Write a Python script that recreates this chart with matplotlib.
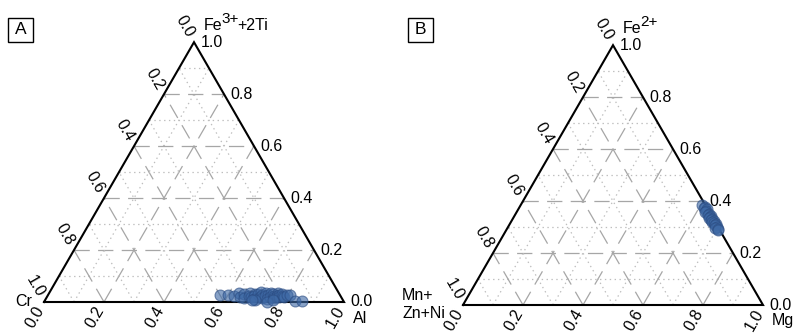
import numpy as np
import matplotlib
matplotlib.use("Agg")
import matplotlib.pyplot as plt
from matplotlib.patches import Rectangle

plt.rcParams['font.family'] = ['Liberation Sans', 'DejaVu Sans']
plt.rcParams['lines.scale_dashes'] = False

# panel A: spinel Al - Cr - (Fe3+ + 2Ti)
a_al = [0.573, 0.600, 0.622, 0.634, 0.645, 0.652, 0.660, 0.668, 0.672, 0.680,
        0.686, 0.690, 0.695, 0.700, 0.705, 0.710, 0.713, 0.718, 0.722, 0.727,
        0.732, 0.736, 0.740, 0.745, 0.750, 0.754, 0.758, 0.762, 0.766, 0.771,
        0.775, 0.779, 0.784, 0.790, 0.796, 0.805, 0.743, 0.700, 0.837, 0.858,
        0.760, 0.690]
a_fe = [0.027, 0.028, 0.024, 0.034, 0.020, 0.030, 0.016, 0.036, 0.025, 0.018,
        0.032, 0.022, 0.012, 0.030, 0.038, 0.020, 0.026, 0.016, 0.034, 0.022,
        0.028, 0.012, 0.036, 0.020, 0.030, 0.024, 0.015, 0.033, 0.022, 0.028,
        0.018, 0.030, 0.024, 0.020, 0.026, 0.027, 0.000, 0.008, 0.002, 0.003,
        0.008, 0.006]

# panel B: Mg - (Mn+Zn+Ni) - Fe2+
b_fe = [0.385, 0.378, 0.372, 0.368, 0.362, 0.357, 0.352, 0.348, 0.343, 0.339,
        0.335, 0.331, 0.327, 0.322, 0.318, 0.314, 0.310, 0.306, 0.302, 0.298,
        0.294, 0.290]
b_mn = [0.010, 0.006, 0.012, 0.004, 0.009, 0.015, 0.005, 0.011, 0.002, 0.008,
        0.013, 0.004, 0.009, 0.003, 0.011, 0.006, 0.002, 0.008, 0.004, 0.010,
        0.003, 0.006]

tick_vals = [0.0, 0.2, 0.4, 0.6, 0.8, 1.0]
tick_labels = ['0.0', '0.2', '0.4', '0.6', '0.8', '1.0']

H = np.sqrt(3) / 2
FS = 11.5


def to_xy(right, top):
    right = np.asarray(right, dtype=float)
    top = np.asarray(top, dtype=float)
    return right + top / 2, top * H


def ternary_frame(ax, top_parts, right_label, right_dy):
    # grid: dotted at odd tenths, dashed at even tenths
    for i in range(1, 10):
        t = i / 10
        segs = [
            ((t / 2, t * H), (1 - t / 2, t * H)),              # top component
            ((t, 0), (t + (1 - t) / 2, (1 - t) * H)),          # right component
            ((1 - t, 0), ((1 - t) / 2, (1 - t) * H)),          # left component
        ]
        for (x0, y0), (x1, y1) in segs:
            if i % 2 == 0:
                ax.plot([x0, x1], [y0, y1], color='#a6a6a6', lw=0.9,
                        linestyle=(0, (11, 6)), zorder=1)
            else:
                ax.plot([x0, x1], [y0, y1], color='#bdbdbd', lw=0.9,
                        linestyle=(0, (1, 2.5)), zorder=1)

    ax.plot([0, 1, 0.5, 0], [0, 0, H, 0], color='black', lw=1.5,
            solid_joinstyle='miter', zorder=3)

    off = 0.022
    for v, lab in zip(tick_vals, tick_labels):
        # right edge: top component, horizontal labels
        x, y = 1 - v / 2, v * H
        ax.text(x + off, y, lab, ha='left', va='center', fontsize=FS)
        # bottom edge: right component
        x, y = v, 0
        ang = np.deg2rad(240)
        ax.text(x + off * np.cos(ang), y + off * np.sin(ang), lab,
                rotation=60, rotation_mode='anchor', ha='right',
                va='center', fontsize=FS)
        # left edge: left component
        x, y = 0.5 * (1 - v), (1 - v) * H
        ang = np.deg2rad(120)
        ax.text(x + off * np.cos(ang), y + off * np.sin(ang), lab,
                rotation=-60, rotation_mode='anchor', ha='right',
                va='center', fontsize=FS)

    # top vertex name with a full-size raised charge
    base, sup, tail = top_parts
    t1 = ax.text(0.5 + 0.033, H + 0.04, base, ha='left', va='baseline',
                 fontsize=FS)
    t2 = ax.annotate(sup, xy=(1, 0), xycoords=t1, xytext=(-0.8, 5.5),
                     textcoords='offset points', ha='left', va='bottom',
                     fontsize=FS - 0.5)
    if tail:
        ax.annotate(tail, xy=(1, 0), xycoords=t2, xytext=(-1.2, -5.5),
                    textcoords='offset points', ha='left', va='bottom',
                    fontsize=FS)

    ax.text(1 + 0.03, -right_dy, right_label, ha='left', va='center',
            fontsize=FS)


fig = plt.figure(figsize=(7.95, 3.35), dpi=100)

# panel A
axA = fig.add_axes([0, 0, 397 / 795, 1])
axA.set_xlim(-44 / 300, 353 / 300)
axA.set_ylim(-33 / 300, 302 / 300)
axA.axis('off')
ternary_frame(axA, ('Fe', '3+', '+2Ti'), 'Al', 0.055)
axA.text(-0.04, 0.0, 'Cr', ha='right', va='center', fontsize=FS)
x, y = to_xy(a_al, a_fe)
axA.scatter(x, y, s=62, facecolor='#3f6aa6', edgecolor='#2b4c82',
            linewidth=0.8, alpha=0.62, zorder=4, clip_on=False)

# panel B
axB = fig.add_axes([397 / 795, 0, 398 / 795, 1])
axB.set_xlim(-66 / 300, 332 / 300)
axB.set_ylim(-30 / 300, 305 / 300)
axB.axis('off')
ternary_frame(axB, ('Fe', '2+', ''), 'Mg', 0.05)
axB.text(-0.203, 0.0, 'Mn+\nZn+Ni', ha='left', va='center', fontsize=FS,
         linespacing=1.25)
b_mg = 1 - np.asarray(b_fe) - np.asarray(b_mn)
x, y = to_xy(b_mg, b_fe)
axB.scatter(x, y, s=62, facecolor='#3f6aa6', edgecolor='#2b4c82',
            linewidth=0.8, alpha=0.62, zorder=4, clip_on=False)

# panel letters in boxes
for letter, px in [('A', 8), ('B', 408)]:
    fig.add_artist(Rectangle((px / 795, 1 - 42 / 335), 25 / 795, 24 / 335,
                             transform=fig.transFigure, fill=False,
                             edgecolor='black', lw=1.0))
    fig.text((px + 12.5) / 795, 1 - 30 / 335, letter, ha='center',
             va='center', fontsize=12.5)

fig.savefig('out.png', dpi=100)
